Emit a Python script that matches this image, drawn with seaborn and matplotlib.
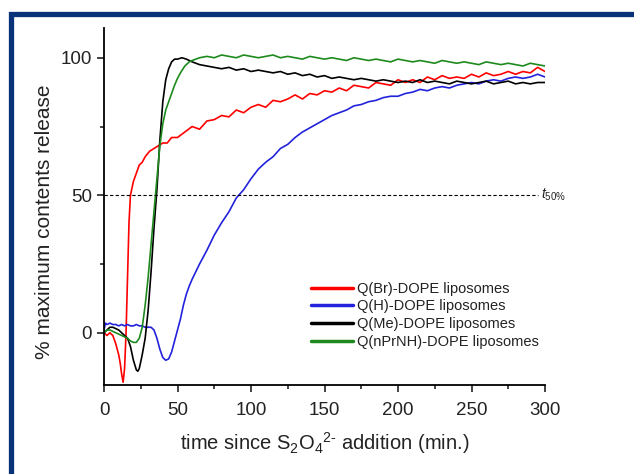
import pandas as pd
import matplotlib.pyplot as plt
import matplotlib.patches as mpatches
from matplotlib.ticker import MultipleLocator
import seaborn as sns

sns.set_theme(style="ticks")
plt.rcParams['font.family'] = ['Liberation Sans', 'DejaVu Sans']
plt.rcParams['mathtext.fontset'] = 'custom'
plt.rcParams['mathtext.rm'] = 'Liberation Sans'
plt.rcParams['mathtext.it'] = 'Liberation Sans:italic'

# shared 5-min grid for the slow part of every trace
t_late = [60, 65, 70, 75, 80, 85, 90, 95, 100, 105, 110, 115, 120, 125, 130,
          135, 140, 145, 150, 155, 160, 165, 170, 175, 180, 185, 190, 195, 200,
          205, 210, 215, 220, 225, 230, 235, 240, 245, 250, 255, 260, 265, 270,
          275, 280, 285, 290, 295, 300]

# Q(Br)
t_br = [0, 2, 4, 6, 8, 10, 11, 12, 13, 14, 15, 16, 17, 18, 20, 22, 24, 26, 28,
        31, 34, 37, 40, 43, 46, 50, 55]
v_br = [0, -1, 0, -1, -4, -8, -11, -15, -18, -13, 0, 20, 40, 50, 55, 58, 61,
        62, 64, 66, 67, 68, 69, 69, 71, 71, 73,
        75, 74, 77, 77.5, 79, 78.5, 81, 80, 82, 83, 82, 84.5, 84, 85, 86.5, 85,
        87, 86.5, 88, 87.5, 89, 88, 90, 89.5, 89, 91, 90.5, 90, 92, 91, 92, 91,
        93, 92, 93.5, 92.5, 93, 92.5, 94, 93, 94.5, 93.5, 94, 95, 94, 95, 94.5,
        96.5, 95]

# Q(H)
t_h = [0, 1, 2, 4, 6, 8, 10, 12, 14, 16, 18, 20, 22, 24, 26, 28, 30, 32, 34,
       36, 38, 40, 42, 44, 46, 48, 50, 52, 54, 56, 58]
v_h = [1, 3.5, 3, 3.5, 3, 3, 2.5, 3, 2.5, 3, 2.5, 2.5, 3, 2.5, 2.5, 2, 2, 2, 1,
       -2, -6, -9, -10, -9.5, -7, -3, 1, 5, 10, 14, 17,
       19.5, 25, 30, 35.5, 40, 44, 49, 52, 56, 59.5, 62, 64, 67, 68.5, 71, 73,
       74.5, 76, 77.5, 79, 80, 81, 82.5, 83, 84, 84.5, 85.5, 86, 86, 87, 87.5,
       88.5, 88, 89, 89.5, 89, 90, 90.5, 91, 90.5, 91.5, 92, 91.5, 92.5, 93,
       92.5, 93, 94, 93]

# Q(Me)
t_me = [0, 2, 4, 6, 8, 10, 12, 14, 16, 18, 20, 22, 23, 24, 26, 28, 30, 32, 34,
        36, 38, 40, 42, 44, 46, 48, 50, 53, 56]
v_me = [0, 1, 2, 2, 1.5, 1, 0, -1, -2, -5, -10, -13.5, -14, -13, -8, -2, 8, 22,
        38, 52, 70, 84, 92, 96, 98.5, 99.5, 99.5, 100, 99.5,
        98.5, 97.5, 97, 96.5, 96, 96.5, 95.5, 96, 95, 95.5, 95, 94.5, 95, 94,
        94.5, 93.5, 94, 93, 93.5, 92.5, 93, 92.5, 92, 92.5, 92, 91.5, 92, 91.5,
        91, 91.5, 91, 92, 91, 91.5, 91, 90.5, 91.5, 91, 90.5, 91, 91.5, 90.5,
        91, 91.5, 90.5, 91, 90.5, 91, 91]

# Q(nPrNH)
t_pr = [0, 2, 4, 6, 8, 10, 12, 14, 16, 18, 20, 22, 24, 26, 28, 30, 32, 34, 36,
        38, 40, 42, 44, 46, 48, 50, 52, 55, 58]
v_pr = [0, 1, 1, 0.5, 0, -0.5, -1, -1.5, -2, -3, -3.5, -3.5, -2, 2, 10, 20, 32,
        44, 56, 68, 76, 81, 84, 87, 90, 92.5, 94.5, 97, 98.5,
        99, 100, 100.5, 100, 101, 100.5, 100, 101, 100.5, 100, 100.5, 101, 100,
        100.5, 100, 99.5, 100.5, 100, 99.5, 100, 99.5, 99, 100, 99.5, 99, 99.5,
        99, 98.5, 99.5, 99, 98.5, 99, 98.5, 98, 99, 98.5, 98, 98.5, 98, 97.5,
        98.5, 98, 97.5, 98, 97.5, 97, 98, 97.5, 97]

labels = ['Q(Br)-DOPE liposomes', 'Q(H)-DOPE liposomes',
          'Q(Me)-DOPE liposomes', 'Q(nPrNH)-DOPE liposomes']
colors = ['#ff0000', '#2222dd', '#000000', '#1e8a1e']

frames = []
for lab, t, v in zip(labels, [t_br + t_late, t_h + t_late, t_me + t_late, t_pr + t_late],
                     [v_br, v_h, v_me, v_pr]):
    frames.append(pd.DataFrame({'time': t, 'release': v, 'sample': lab}))
df = pd.concat(frames, ignore_index=True)

fig = plt.figure(figsize=(6.34, 4.74), dpi=100)
ax = fig.add_axes([104 / 634, 89 / 474, 441 / 634, 357.5 / 474])

# dark blue frame
fig.patches.append(mpatches.Rectangle((10.5 / 634, -0.2), 1.5, (474 - 14) / 474 + 0.2,
                                      transform=fig.transFigure, fill=False,
                                      edgecolor='#08327a', linewidth=3.8))

sns.lineplot(data=df, x='time', y='release', hue='sample', palette=colors,
             estimator=None, sort=False, linewidth=1.2, ax=ax)

ax.hlines(50, 0, 295, colors='black', linestyles=(0, (3, 2)), linewidth=0.8)
ax.text(297, 50, r'$\it{t}_{\rm 50\%}$', fontsize=10, va='center', ha='left',
        color='#222222')

ax.set_xlim(0, 300)
ax.set_ylim(-19, 111)
ax.xaxis.set_major_locator(MultipleLocator(50))
ax.xaxis.set_minor_locator(MultipleLocator(25))
ax.yaxis.set_major_locator(MultipleLocator(50))
ax.yaxis.set_minor_locator(MultipleLocator(25))
ax.tick_params(which='major', length=5, width=1.2, direction='out',
               labelsize=13.5, colors='#222222')
ax.tick_params(axis='x', which='major', pad=7)
ax.tick_params(which='minor', length=3, width=1.2, direction='out')
for s in ['top', 'right']:
    ax.spines[s].set_visible(False)
for s in ['left', 'bottom']:
    ax.spines[s].set_linewidth(1.3)
    ax.spines[s].set_color('black')

ax.set_xlabel(r'time since S$_{\rm 2}$O$_{\rm 4}$$^{\rm 2\text{-}}$ addition (min.)',
              fontsize=14.5, color='#222222')
ax.set_ylabel('% maximum contents release', fontsize=15, color='#222222')
ax.xaxis.set_label_coords(0.5, -0.125)
ax.yaxis.set_label_coords(-0.113, 0.456)

leg = ax.legend(loc='upper left', bbox_to_anchor=(305 / 634, 1 - 276 / 474),
                bbox_transform=fig.transFigure, frameon=False, fontsize=10.5,
                handlelength=2.9, handletextpad=0.25, labelspacing=0.25,
                borderaxespad=0)
for line in leg.get_lines():
    line.set_linewidth(2.5)
for txt in leg.get_texts():
    txt.set_color('#222222')

fig.savefig('out.png', dpi=100)
